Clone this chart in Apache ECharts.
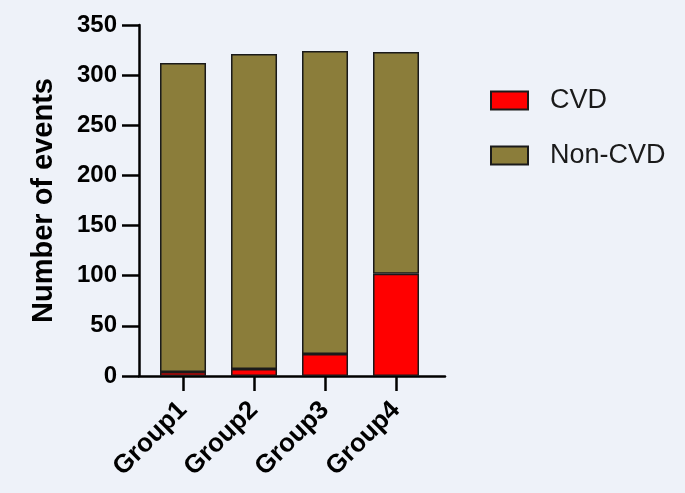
<!DOCTYPE html>
<html>
<head>
<meta charset="utf-8">
<script src="https://cdn.jsdelivr.net/npm/echarts@6/dist/echarts.min.js"></script>
<style>
  html, body { margin: 0; padding: 0; background: #eef2f9; }
  #chart { width: 685px; height: 493px; }
</style>
</head>
<body>
<div id="chart"></div>
<script>
const groups = ['Group1', 'Group2', 'Group3', 'Group4']
const cvd = [4, 7, 22, 102]
const nonCvd = [308, 314, 302, 221]
const yTicks = { min: 0, max: 350, interval: 50 }

const chart = echarts.init(document.getElementById('chart'))

const font = 'Liberation Sans, Arial, Helvetica, sans-serif'
const groupIdx = groups.map((g, i) => i)

// value first so the stack goes on y, group index second (mapped to x)
const toPairs = vals => groupIdx.map(i => [vals[i], i])

const option = {
  backgroundColor: '#eef2f9',
  animation: false,
  legend: {
    orient: 'vertical',
    left: 485,
    top: 82,
    itemWidth: 37,
    itemHeight: 18,
    itemGap: 28,
    icon: 'rect',
    textStyle: { fontSize: 27, color: '#1a1a1a', fontFamily: font, padding: [0, 0, 0, 17] },
    data: ['CVD', 'Non-CVD']
  },
  grid: { left: 139, right: 240, top: 25, bottom: 117, containLabel: false },
  xAxis: {
    // value axis so the groups can sit where they sit in the original
    type: 'value',
    min: -0.62,
    max: 3.69,
    splitLine: { show: false },
    axisLine: { lineStyle: { color: '#000', width: 2.5 } },
    axisTick: { length: 15, customValues: groupIdx, lineStyle: { color: '#000', width: 2.5 } },
    axisLabel: {
      customValues: groupIdx,
      formatter: v => groups[Math.round(v)],
      rotate: 45,
      margin: 30,
      fontSize: 26,
      fontWeight: 'bold',
      color: '#000',
      fontFamily: font
    }
  },
  yAxis: {
    type: 'value',
    min: yTicks.min,
    max: yTicks.max,
    interval: yTicks.interval,
    name: 'Number of events',
    nameLocation: 'middle',
    nameGap: 81,
    nameTextStyle: { fontSize: 29, fontWeight: 'bold', color: '#000', fontFamily: font },
    splitLine: { show: false },
    axisLine: { show: true, onZero: false, lineStyle: { color: '#000', width: 2.5 } },
    axisTick: { show: true, length: 17, lineStyle: { color: '#000', width: 2.5 } },
    axisLabel: { margin: 22, fontSize: 24, fontWeight: 'bold', color: '#000', fontFamily: font }
  },
  series: [
    {
      name: 'CVD',
      type: 'bar',
      stack: 'total',
      barWidth: 46,
      encode: { x: 1, y: 0 },
      data: toPairs(cvd),
      itemStyle: { color: '#ff0000', borderColor: '#1a1a1a', borderWidth: 1.5 }
    },
    {
      name: 'Non-CVD',
      type: 'bar',
      stack: 'total',
      barWidth: 46,
      encode: { x: 1, y: 0 },
      data: toPairs(nonCvd),
      itemStyle: { color: '#8b7d3a', borderColor: '#1a1a1a', borderWidth: 1.5 }
    }
  ]
}

chart.setOption(option)
</script>
</body>
</html>
